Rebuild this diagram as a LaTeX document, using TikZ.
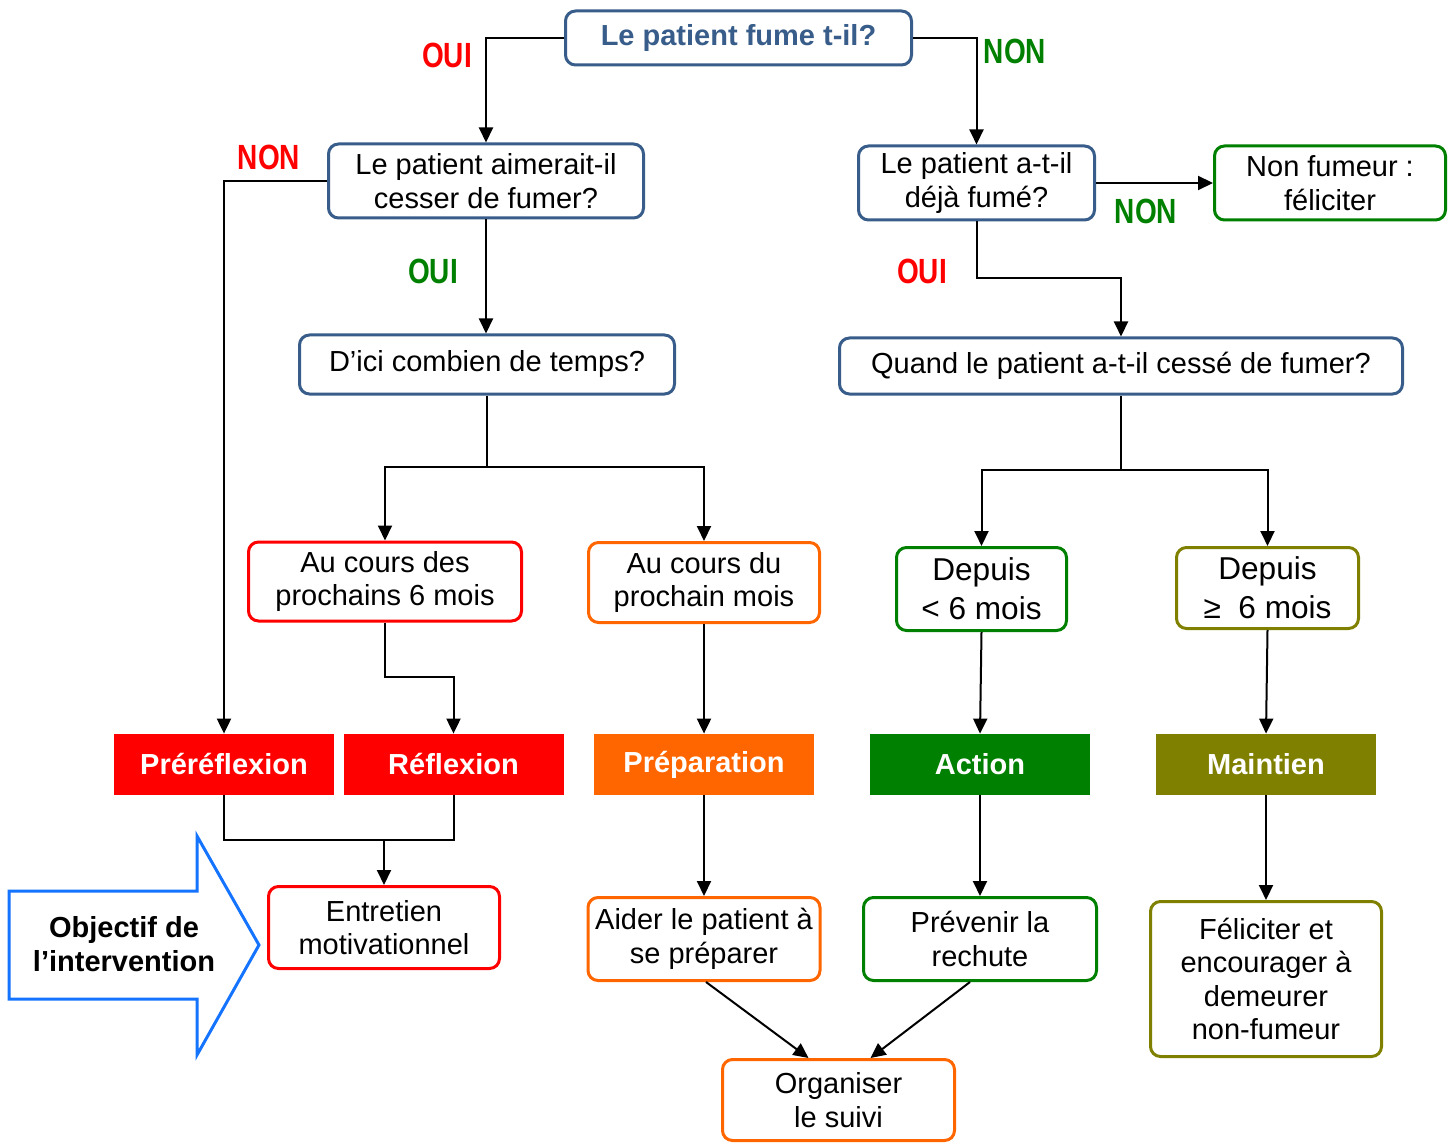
\documentclass[tikz,border=0pt]{standalone}
\usepackage{fontspec}
\usepackage{graphicx}
\setmainfont{Liberation Sans}
\usetikzlibrary{arrows.meta}
\definecolor{qblue}{RGB}{56,93,138}
\definecolor{sred}{RGB}{255,0,0}
\definecolor{sorange}{RGB}{255,102,0}
\definecolor{sgreen}{RGB}{0,128,0}
\definecolor{solive}{RGB}{128,128,0}
\definecolor{gblue}{RGB}{20,115,255}
\newcommand{\boxfont}{\fontsize{14.5}{16.75}\selectfont}
\newcommand{\bigboxfont}{\fontsize{15.8}{19.5}\selectfont}
\newcommand{\lblfont}{\fontsize{17.5}{20}\selectfont\bfseries}
\newcommand{\narrow}[1]{\scalebox{0.8}[1]{#1}}

\begin{document}
\begin{tikzpicture}[
    x=0.5pt, y=-0.5pt,
    qbox/.style={
      rectangle, draw=#1, line width=1.5pt, rounded corners=5pt,
      fill=white, align=center, font=\boxfont, inner sep=1pt
    },
    stage/.style={
      rectangle, fill=#1, text=white, font=\boxfont\bfseries,
      minimum width=110pt, minimum height=30.5pt
    },
    lbl/.style={text=#1, font=\lblfont, inner sep=0pt},
    arr/.style={-{Triangle[length=7.5pt,width=7pt]}, line width=1pt, draw=black},
    link/.style={line width=1pt, draw=black}
  ]
    \useasboundingbox (0,0) rectangle (1455,1144);

    \node[qbox=qblue, text=qblue, font=\boxfont\bfseries,
      minimum width=173pt, minimum height=27pt] (fume) at (738.5,38) {Le patient fume t-il?};
    \node[qbox=qblue, minimum width=157.5pt, minimum height=37pt] (aimer) at (486,181)
      {Le patient aimerait-il\\cesser de fumer?};
    \node[qbox=qblue, minimum width=187.5pt, minimum height=29.5pt] (dici) at (487,364.5)
      {D’ici combien de temps?};
    \node[qbox=qblue, minimum width=118pt, minimum height=37pt] (deja) at (976.5,183)
      {Le patient a-t-il\\déjà fumé?};
    \node[qbox=sgreen, minimum width=115.5pt, minimum height=37pt] (nonfum) at (1330,183)
      {Non fumeur :\\féliciter};
    \node[qbox=qblue, minimum width=281.5pt, minimum height=28pt] (quand) at (1121,366)
      {Quand le patient a-t-il cessé de fumer?};

    \node[qbox=sred, minimum width=136.5pt, minimum height=39.5pt] (cours6) at (385,581.5)
      {Au cours des\\prochains 6 mois};
    \node[qbox=sorange, minimum width=115.5pt, minimum height=40pt] (cours1) at (704,582.5)
      {Au cours du\\prochain mois};
    \node[qbox=sgreen, font=\bigboxfont, minimum width=85pt, minimum height=41.5pt] (moins) at (981.5,589)
      {Depuis\\< 6 mois};
    \node[qbox=solive, font=\bigboxfont, minimum width=91pt, minimum height=40.5pt] (plus) at (1267.5,588)
      {Depuis\\≥~ 6 mois};

    \node[stage=sred] (prerefl) at (224,764.5) {Préréflexion};
    \node[stage=sred] (refl) at (453.5,764.5) {Réflexion};
    \node[stage=sorange] (prepa) at (704,764.5) {Préparation};
    \node[stage=sgreen] (action) at (980,764.5) {Action};
    \node[stage=solive] (maint) at (1266,764.5) {Maintien};

    \node[qbox=sred, minimum width=115.5pt, minimum height=41pt] (entretien) at (384,927.5)
      {Entretien\\motivationnel};
    \node[qbox=sorange, minimum width=116pt, minimum height=41.5pt] (aider) at (704,939)
      {Aider le patient à\\se préparer};
    \node[qbox=sgreen, minimum width=116.5pt, minimum height=41.5pt] (prevenir) at (980,939)
      {Prévenir la\\rechute};
    \node[qbox=solive, minimum width=115.5pt, minimum height=77.5pt] (felic) at (1266,979)
      {Féliciter et\\encourager à\\demeurer\\non-fumeur};
    \node[qbox=sorange, minimum width=116pt, minimum height=40.5pt] (suivi) at (838.5,1100)
      {Organiser\\le suivi};

    \draw[line width=1.5pt, draw=gblue, fill=white]
      (9,891) -- (197,891) -- (197,836) -- (259,945) -- (197,1055) -- (197,999) -- (9,999) -- cycle;
    \node[align=center, font=\boxfont\bfseries] (objectif) at (124,944) {Objectif de\\l’intervention};

    \node[lbl=sred] (oui1) at (447,55) {\narrow{OUI}};
    \node[lbl=sgreen] (non1) at (1015,51) {\narrow{NON}};
    \node[lbl=sred] (non2) at (269,157) {\narrow{NON}};
    \node[lbl=sgreen] (oui2) at (433,271) {\narrow{OUI}};
    \node[lbl=sgreen] (non3) at (1146,211) {\narrow{NON}};
    \node[lbl=sred] (oui3) at (922,271) {\narrow{OUI}};

    \coordinate (dj) at (487,467);
    \coordinate (qj) at (1121,470);
    \coordinate (tj) at (1121,278);
    \coordinate (rj) at (385,677);
    \coordinate (ej) at (384,840);

    \draw[arr] (fume.west) -| (aimer.north);
    \draw[arr] (fume.east) -| (deja.north);
    \draw[arr] (aimer.west) -| (prerefl.north);
    \draw[arr] (aimer.south) -- (aimer.south |- dici.north);
    \draw[link] (dici.south) -- (dj);
    \draw[arr] (dj) -| (cours6.north);
    \draw[arr] (dj) -| (cours1.north);
    \draw[arr] (deja.east) -- (nonfum.west);
    \draw[arr] (deja.south) |- (tj) -- (quand.north);
    \draw[link] (quand.south) -- (qj);
    \draw[arr] (qj) -| (moins.north);
    \draw[arr] (qj) -| (plus.north);
    \draw[arr] (cours6.south) -- (rj) -| (refl.north);
    \draw[arr] (cours1.south) -- (prepa.north);
    \draw[arr] (moins.south) -- (action.north);
    \draw[arr] (plus.south) -- (maint.north);
    \draw[link] (prerefl.south) |- (ej);
    \draw[link] (refl.south) |- (ej);
    \draw[arr] (ej) -- (entretien.north);
    \draw[arr] (prepa.south) -- (aider.north);
    \draw[arr] (action.south) -- (prevenir.north);
    \draw[arr] (maint.south) -- (felic.north);
    \draw[arr] ([xshift=1pt]aider.south) -- ([xshift=-15pt]suivi.north);
    \draw[arr] ([xshift=-5pt]prevenir.south) -- ([xshift=16pt]suivi.north);
  \end{tikzpicture}
\end{document}
